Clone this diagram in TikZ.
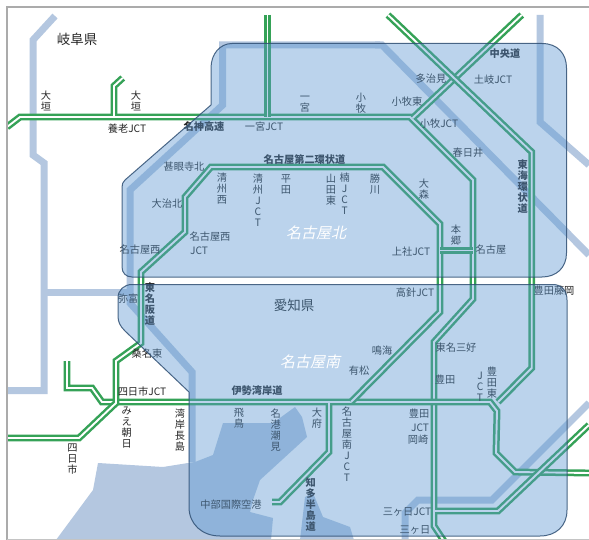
\documentclass[tikz,border=0pt]{standalone}
\usepackage{fontspec}
\setmainfont{Noto Sans CJK JP}
\newfontfamily\slantfont[FakeSlant=0.22]{Noto Sans CJK JP}
\definecolor{bord}{HTML}{B4C7E0}
\definecolor{rdg}{HTML}{35A257}
\definecolor{regf}{HTML}{5D98D2}
\definecolor{regl}{HTML}{2F4F73}
\definecolor{frm}{HTML}{ABABAB}
\definecolor{txt}{HTML}{262626}
\lineskiplimit=-100pt\relax
\lineskip=0pt\relax
\tikzset{
 lab/.style={align=center,inner sep=0pt,text=txt,font=\fontsize{10.2}{11}\selectfont},
 blab/.style={lab,font=\fontsize{10.2}{11}\selectfont\bfseries},
 pref/.style={lab,font=\fontsize{13.5}{15}\selectfont},
 areal/.style={inner sep=0pt,text=white,font=\fontsize{15}{16}\selectfont\slantfont},
 border/.style={draw=bord,line width=7pt,miter limit=4},
 road/.style={draw=rdg,line width=2.5pt,double=white,double distance=1.9pt,miter limit=6},
 region/.style={fill=regf,fill opacity=.42,draw=regl,draw opacity=.85,line width=1pt}
}
\newcommand\lb[3]{\node[lab] (#1) at (#2) {#3};}
\newcommand\bl[3]{\node[blab] (#1) at (#2) {#3};}
\begin{document}
\begin{tikzpicture}[x=1pt,y=-1pt]
\useasboundingbox (0,0) rectangle (589,540);
\fill[white] (0,0) rectangle (589,540);
% sea
\fill[bord] (56,540)--(93,490)--(98,463)--(163,467)--(188,463)--(195,462)--(213,455)--(223,423)--(273,423)--(295,407)--(302,417)--(307,437)--(260,480)--(253,500)--(250,512)--(273,518)--(271,540)--cycle;
\fill[bord] (300,540)--(305,497)--(313,493)--(323,517)--(350,527)--(354,540)--cycle;
% prefecture borders
\begin{scope}
\clip (8,8) rectangle (589,539);
\path[border] (55,16)--(33,40)--(33,155)--(44,163)--(44,390.5)--(7,390.5);
\path[border] (44,292.5)--(130,292.5);
\path[border] (380,45)--(222.7,45)--(222.7,105)--(130,190)--(130,303)--(192,372)--(192,462);
\path[border] (375,45)--(382,45)--(589,255);
\path[border] (540,15)--(540,122)--(589,165);
\path[border] (589,403)--(492,500)--(418,500)--(405,513)--(405,540);
% roads
\path[road] (7,127)--(20,117)--(410,117)--(473,180)--(473,299)--(434,342)--(434,526)--(444,541);
\path[road] (267.5,15)--(267.5,117);
\path[road] (122.7,78)--(114,86)--(114,116);
\path[road] (521.7,15)--(412.7,118);
\path[road] (388,15)--(531.7,152)--(531.7,368)--(498,402);
\path[road] (67,361)--(67,388)--(92,388)--(102,402)--(490,402)--(497,411)--(496,453)--(515,472)--(589,473);
\path[road] (7,438)--(79,438)--(116,403)--(116,361)--(141,343)--(141,272)--(185,232)--(185,197)--(211,167)--(383,167)--(440,224)--(440,312)--(351,402);
\path[road] (329,403)--(329,452)--(280,502)--(272,502);
\path[road] (435,511)--(498,511)--(589,425);
\path[road] (440,250.5)--(473,250.5);
\end{scope}
% labels under the overlay
\node[pref] (gifu) at (77,39) {岐阜県};
\node[pref] (aichi) at (294,305) {愛知県};
\lb{oga}{46,101}{大\\垣}
\lb{ogb}{136,101}{大\\垣}
\lb{yoro}{127,129}{養老JCT}
\bl{meishin}{204,127}{名神高速}
\lb{ichij}{264,127}{一宮JCT}
\lb{jimo}{184,167}{甚眼寺北}
\lb{kiyon}{222,189}{清\\州\\西}
\lb{kiyoj}{258,200}{清\\州\\J\\C\\T}
\lb{hira}{286,184}{平\\田}
\bl{ring}{304.5,160}{名古屋第二環状道}
\lb{yama}{331,190}{山\\田\\東}
\lb{kusu}{344.6,194}{楠\\J\\C\\T}
\lb{kachi}{375,184}{勝\\川}
\lb{omor}{424,189}{大\\森}
\lb{hong}{456,235}{本\\郷}
\lb{kami}{411,252}{上社JCT}
\lb{nago}{491,250}{名古屋}
\lb{oji}{167,204}{大治北}
\lb{nwa}{140,250}{名古屋西}
\lb{nwb}{210,237}{名古屋西}
\node[lab,anchor=west] (nwj) at (190,251) {JCT};
\lb{ichi}{305,104}{一\\宮}
\lb{koma}{361,103}{小\\牧}
\lb{komae}{407,102}{小牧東}
\lb{komaj}{439,124}{小牧JCT}
\lb{taji}{431,79}{多治見}
\lb{toki}{493,80}{土岐JCT}
\bl{chuo}{505,54}{中央道}
\lb{kasu}{468,153}{春日井}
\bl{tokai}{522.7,187}{東\\海\\環\\状\\道}
\lb{yato}{128,299}{弥富}
\bl{tomei}{150,304}{東\\名\\阪\\道}
\lb{kuwa}{147,354}{桑名東}
\lb{yokj}{142,392}{四日市JCT}
\bl{isewan}{257,391}{伊勢湾岸道}
\lb{mie}{126.7,428}{み\\え\\朝\\日}
\lb{naga}{180,430}{湾\\岸\\長\\島}
\lb{yok}{72.5,459}{四\\日\\市}
\lb{tobi}{239,418}{飛\\鳥}
\lb{meik}{275.7,430}{名\\港\\潮\\見}
\lb{cent}{231,505}{中部国際空港}
\lb{obu}{317,418}{大\\府}
\lb{nanj}{347,444}{名\\古\\屋\\南\\J\\C\\T}
\bl{chita}{310.7,505}{知\\多\\半\\島\\道}
\lb{naru}{382,351}{鳴海}
\lb{ari}{359,371}{有松}
\lb{taka}{415,293}{高針JCT}
\lb{miyo}{456,348}{東名三好}
\lb{toya}{445,380}{豊田}
\lb{hjct}{480,387}{J\\C\\T}
\lb{hhig}{492,383}{豊\\田\\東}
\lb{toyb}{419,414}{豊田}
\lb{tjct}{420,428}{JCT}
\lb{oka}{418,440}{岡崎}
\lb{mikj}{407,512}{三ヶ日JCT}
\lb{mik}{415,530}{三ヶ日}
\lb{fuji}{554,291}{豊田藤岡}
% regions
\path[region] (232,43.5)--(542,43.5) .. controls (558,43.5) and (566.5,54) .. (566.5,68)--(566.5,253) .. controls (566.5,268) and (556,277) .. (542,277)--(132,277) .. controls (126,277) and (122,273) .. (122,267)--(122,187) .. controls (122,184) and (123,182) .. (125,180)--(211,105)--(211,68) .. controls (211,54) and (220,43.5) .. (232,43.5)--cycle;
\path[region] (132,284.5)--(553,284.5) .. controls (562,284.5) and (567,291) .. (567,300)--(567,510) .. controls (567,526) and (556,536) .. (540,536)--(220,536) .. controls (202,536) and (189,524) .. (189,507)--(189,392)--(125,331) .. controls (120,326) and (118,322) .. (118,316)--(118,298) .. controls (118,290) and (124,284.5) .. (132,284.5)--cycle;
\node[areal] (north) at (316,233) {名古屋北};
\node[areal] (south) at (310,362) {名古屋南};
% frame
\draw[frm,line width=2pt] (7,540)--(7,7)--(589,7);
\draw[frm!70,line width=1pt] (7,539)--(589,539);
\end{tikzpicture}
\end{document}
